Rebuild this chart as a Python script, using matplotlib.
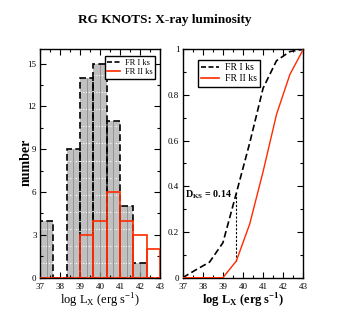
import numpy as np
import matplotlib
matplotlib.use("Agg")
import matplotlib.pyplot as plt
from matplotlib.ticker import MultipleLocator, FixedLocator
from matplotlib.lines import Line2D

plt.rcParams['font.family'] = ['Liberation Serif', 'DejaVu Serif']
plt.rcParams['mathtext.fontset'] = 'custom'
plt.rcParams['mathtext.rm'] = 'Liberation Serif'
plt.rcParams['mathtext.bf'] = 'Liberation Serif:bold'

# histogram bins (log Lx) and counts
bin_edges = [37.0, 37.667, 38.333, 39.0, 39.667, 40.333, 41.0, 41.667, 42.333, 43.0]
fr1_counts = [4, 0, 9, 14, 15, 11, 5, 1, 0]
fr2_counts = [0, 0, 0, 3, 4, 6, 4, 3, 2]

# cumulative distributions
cdf_x = [37.0, 37.667, 38.333, 39.0, 39.667, 40.333, 41.0, 41.667, 42.333, 43.0]
fr1_cdf = [0.0, 0.035, 0.068, 0.153, 0.37, 0.59, 0.83, 0.95, 0.99, 1.0]
fr2_cdf = [0.0, 0.0, 0.0, 0.0, 0.073, 0.235, 0.465, 0.715, 0.89, 1.0]
d_ks_x = 39.667
d_ks_label = "0.14"

red = '#ff2a00'
gray = '#c0c0c0'

fig = plt.figure(figsize=(3.43, 3.27), dpi=100)
ax1 = fig.add_axes([0.1166, 0.1508, 0.35, 0.6985])
ax2 = fig.add_axes([0.5327, 0.1508, 0.3516, 0.6985])

lefts = np.array(bin_edges[:-1])
widths = np.diff(bin_edges)

# FR I filled bars
ax1.bar(lefts, fr1_counts, width=widths, align='edge', color=gray,
        edgecolor='none', zorder=1)
for l, w, h in zip(lefts, widths, fr1_counts):
    levels = np.arange(1.0, h, 1.2)
    if len(levels):
        ax1.hlines(levels, l, l + w, colors='white', linestyles=(0, (1, 1.5)),
                   linewidth=0.8, zorder=2)
    if h > 0:
        ax1.vlines(l + w / 2, 0, h, colors='#8c8c8c', linewidth=0.6, zorder=2)
ax1.bar(lefts, fr1_counts, width=widths, align='edge', fill=False,
        edgecolor='black', linestyle=(0, (4, 2)), linewidth=1.2, zorder=3,
        label='FR I ks')
ax1.bar(lefts, fr2_counts, width=widths, align='edge', fill=False,
        edgecolor=red, linewidth=1.2, zorder=4, label='FR II ks')

ax1.set_xlim(37, 43)
ax1.set_ylim(0, 16)
ax1.yaxis.set_major_locator(MultipleLocator(3))
ax1.yaxis.set_minor_locator(MultipleLocator(1.5))

h1 = [Line2D([], [], color='black', linestyle=(0, (3, 1.5)), lw=1.2),
      Line2D([], [], color=red, lw=1.2)]
ax1.legend(h1, ['FR I ks', 'FR II ks'], loc='upper right',
           bbox_to_anchor=(0.955, 0.97), fontsize=6, frameon=True,
           fancybox=False, edgecolor='black', framealpha=1,
           handlelength=1.6, handletextpad=0.5, borderpad=0.3,
           labelspacing=0.2, borderaxespad=0)

# CDFs
ax2.plot(cdf_x, fr1_cdf, color='black', linestyle=(0, (4, 2)), lw=1.2,
         label='FR I ks', zorder=3)
ax2.plot(cdf_x, fr2_cdf, color=red, lw=1.0, label='FR II ks', zorder=3)
i = cdf_x.index(d_ks_x)
ax2.vlines(d_ks_x, fr2_cdf[i], fr1_cdf[i], colors='black',
           linestyles=(0, (2, 1.5)), linewidth=0.8)
ax2.text(37.12, 0.365, r'D$_\mathbf{KS}$ = ' + d_ks_label, fontsize=7.2,
         fontweight='bold', va='center', ha='left')
ax2.set_xlim(37, 43)
ax2.set_ylim(0, 1)
ax2.yaxis.set_major_locator(FixedLocator([0, 0.2, 0.4, 0.6, 0.8, 1.0]))
ax2.set_yticklabels(['0', '0.2', '0.4', '0.6', '0.8', '1'])
ax2.yaxis.set_minor_locator(MultipleLocator(0.1))
h2 = [Line2D([], [], color='black', linestyle=(0, (3, 1.5)), lw=1.2),
      Line2D([], [], color=red, lw=1.2)]
ax2.legend(h2, ['FR I ks', 'FR II ks'], loc='upper left',
           bbox_to_anchor=(0.127, 0.955), fontsize=7, frameon=True,
           fancybox=False, edgecolor='black', framealpha=1,
           handlelength=1.8, handletextpad=0.6, borderpad=0.35,
           labelspacing=0.25, borderaxespad=0)

for ax in (ax1, ax2):
    ax.xaxis.set_major_locator(MultipleLocator(1))
    ax.xaxis.set_minor_locator(MultipleLocator(0.5))
    ax.tick_params(which='both', direction='in', top=True, right=True,
                   labelsize=6.5, width=0.8)
    ax.tick_params(axis='x', pad=3.5)
    ax.tick_params(axis='y', pad=2.5)
    ax.tick_params(which='major', length=4)
    ax.tick_params(which='minor', length=2.5)
    for s in ax.spines.values():
        s.set_linewidth(1.0)

fig.text(0.481, 0.939, 'RG KNOTS: X-ray luminosity', ha='center',
         va='center', fontsize=9.5, fontweight='bold')
fig.text(0.076, 0.505, 'number', rotation=90, ha='center', va='center',
         fontsize=10, fontweight='bold')
fig.text(0.292, 0.08, r'log L$_\mathregular{X}$ (erg s$^\mathregular{-1}$)',
         ha='center', va='center', fontsize=9)
fig.text(0.709, 0.08, r'log L$_\mathbf{X}$ (erg s$^\mathbf{-1}$)',
         ha='center', va='center', fontsize=9, fontweight='bold')

fig.savefig('out.png', dpi=100)
